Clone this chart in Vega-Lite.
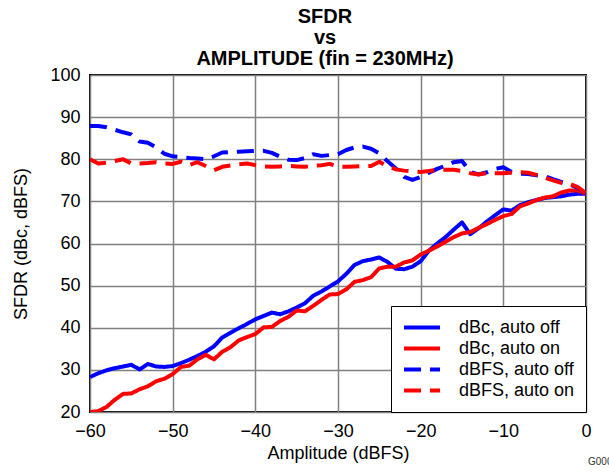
{
  "$schema": "https://vega.github.io/schema/vega-lite/v6.json",
  "width": 496,
  "height": 337,
  "autosize": "none",
  "padding": {"left": 90, "top": 75, "right": 23, "bottom": 60},
  "background": "white",
  "config": {
    "font": "Liberation Sans",
    "view": {"stroke": "black", "strokeWidth": 2},
    "axis": {
      "labelFont": "Liberation Sans",
      "titleFont": "Liberation Sans",
      "labelFontSize": 18,
      "titleFontSize": 18,
      "labelColor": "black",
      "titleColor": "black",
      "titleFontWeight": "normal",
      "gridColor": "#808080",
      "gridWidth": 1.5,
      "gridOpacity": 1,
      "domain": false,
      "ticks": false,
      "labelFlush": false,
      "labelPadding": 10
    }
  },
  "title": {
    "text": ["SFDR", "vs", "AMPLITUDE (fin = 230MHz)"],
    "font": "Liberation Sans",
    "fontSize": 20,
    "fontWeight": "bold",
    "lineHeight": 21,
    "anchor": "middle",
    "dx": -13,
    "dy": 3,
    "offset": 0,
    "color": "black"
  },
  "layer": [
    {
      "data": {
        "values": [
          {"a": -60, "dBc_off": 28.3, "dBc_on": 20.0, "dBFS_off": 87.9, "dBFS_on": 80.0},
          {"a": -59, "dBc_off": 29.2, "dBc_on": 20.2, "dBFS_off": 87.9, "dBFS_on": 79.0},
          {"a": -58, "dBc_off": 29.9, "dBc_on": 21.2, "dBFS_off": 87.6, "dBFS_on": 79.2},
          {"a": -57, "dBc_off": 30.4, "dBc_on": 22.9, "dBFS_off": 87.0, "dBFS_on": 79.6},
          {"a": -56, "dBc_off": 30.8, "dBc_on": 24.3, "dBFS_off": 86.4, "dBFS_on": 80.0},
          {"a": -55, "dBc_off": 31.2, "dBc_on": 24.4, "dBFS_off": 85.9, "dBFS_on": 79.0},
          {"a": -54, "dBc_off": 30.1, "dBc_on": 25.4, "dBFS_off": 84.2, "dBFS_on": 79.0},
          {"a": -53, "dBc_off": 31.4, "dBc_on": 26.1, "dBFS_off": 83.9, "dBFS_on": 79.1},
          {"a": -52, "dBc_off": 30.8, "dBc_on": 27.3, "dBFS_off": 82.8, "dBFS_on": 79.3},
          {"a": -51, "dBc_off": 30.7, "dBc_on": 27.9, "dBFS_off": 81.3, "dBFS_on": 79.0},
          {"a": -50, "dBc_off": 30.9, "dBc_on": 29.0, "dBFS_off": 80.7, "dBFS_on": 78.9},
          {"a": -49, "dBc_off": 31.6, "dBc_on": 30.7, "dBFS_off": 80.5, "dBFS_on": 79.4},
          {"a": -48, "dBc_off": 32.4, "dBc_on": 31.0, "dBFS_off": 80.3, "dBFS_on": 78.6},
          {"a": -47, "dBc_off": 33.3, "dBc_on": 32.5, "dBFS_off": 80.2, "dBFS_on": 79.3},
          {"a": -46, "dBc_off": 34.3, "dBc_on": 33.6, "dBFS_off": 80.0, "dBFS_on": 78.4},
          {"a": -45, "dBc_off": 35.6, "dBc_on": 32.5, "dBFS_off": 80.7, "dBFS_on": 77.4},
          {"a": -44, "dBc_off": 37.7, "dBc_on": 34.3, "dBFS_off": 81.6, "dBFS_on": 78.2},
          {"a": -43, "dBc_off": 38.8, "dBc_on": 35.4, "dBFS_off": 81.7, "dBFS_on": 78.5},
          {"a": -42, "dBc_off": 39.9, "dBc_on": 37.0, "dBFS_off": 81.8, "dBFS_on": 78.8},
          {"a": -41, "dBc_off": 40.9, "dBc_on": 37.8, "dBFS_off": 81.9, "dBFS_on": 79.0},
          {"a": -40, "dBc_off": 42.0, "dBc_on": 38.5, "dBFS_off": 82.0, "dBFS_on": 78.6},
          {"a": -39, "dBc_off": 42.8, "dBc_on": 40.1, "dBFS_off": 82.0, "dBFS_on": 78.3},
          {"a": -38, "dBc_off": 43.6, "dBc_on": 40.2, "dBFS_off": 81.5, "dBFS_on": 78.2},
          {"a": -37, "dBc_off": 43.2, "dBc_on": 41.6, "dBFS_off": 80.6, "dBFS_on": 78.3},
          {"a": -36, "dBc_off": 43.9, "dBc_on": 42.6, "dBFS_off": 79.9, "dBFS_on": 78.4},
          {"a": -35, "dBc_off": 44.8, "dBc_on": 44.1, "dBFS_off": 79.8, "dBFS_on": 78.3},
          {"a": -34, "dBc_off": 45.8, "dBc_on": 43.9, "dBFS_off": 80.3, "dBFS_on": 78.2},
          {"a": -33, "dBc_off": 47.6, "dBc_on": 45.2, "dBFS_off": 81.2, "dBFS_on": 78.5},
          {"a": -32, "dBc_off": 48.6, "dBc_on": 46.6, "dBFS_off": 80.8, "dBFS_on": 78.6},
          {"a": -31, "dBc_off": 49.8, "dBc_on": 47.9, "dBFS_off": 81.0, "dBFS_on": 78.9},
          {"a": -30, "dBc_off": 51.0, "dBc_on": 48.0, "dBFS_off": 81.2, "dBFS_on": 78.3},
          {"a": -29, "dBc_off": 52.8, "dBc_on": 49.1, "dBFS_off": 82.2, "dBFS_on": 78.2},
          {"a": -28, "dBc_off": 54.9, "dBc_on": 50.9, "dBFS_off": 82.8, "dBFS_on": 78.3},
          {"a": -27, "dBc_off": 55.8, "dBc_on": 51.3, "dBFS_off": 83.0, "dBFS_on": 78.4},
          {"a": -26, "dBc_off": 56.2, "dBc_on": 52.0, "dBFS_off": 82.5, "dBFS_on": 78.4},
          {"a": -25, "dBc_off": 56.7, "dBc_on": 54.1, "dBFS_off": 81.4, "dBFS_on": 79.4},
          {"a": -24, "dBc_off": 55.6, "dBc_on": 54.5, "dBFS_off": 79.5, "dBFS_on": 78.3},
          {"a": -23, "dBc_off": 54.0, "dBc_on": 54.5, "dBFS_off": 77.8, "dBFS_on": 77.6},
          {"a": -22, "dBc_off": 53.9, "dBc_on": 55.5, "dBFS_off": 75.8, "dBFS_on": 77.3},
          {"a": -21, "dBc_off": 54.5, "dBc_on": 56.0, "dBFS_off": 75.1, "dBFS_on": 77.1},
          {"a": -20, "dBc_off": 55.8, "dBc_on": 57.4, "dBFS_off": 75.8, "dBFS_on": 77.0},
          {"a": -19, "dBc_off": 58.3, "dBc_on": 58.3, "dBFS_off": 76.8, "dBFS_on": 77.2},
          {"a": -18, "dBc_off": 60.0, "dBc_on": 59.3, "dBFS_off": 77.7, "dBFS_on": 77.5},
          {"a": -17, "dBc_off": 61.5, "dBc_on": 60.4, "dBFS_off": 78.5, "dBFS_on": 77.5},
          {"a": -16, "dBc_off": 63.3, "dBc_on": 61.5, "dBFS_off": 79.3, "dBFS_on": 77.5},
          {"a": -15, "dBc_off": 65.0, "dBc_on": 62.4, "dBFS_off": 79.6, "dBFS_on": 77.2},
          {"a": -14, "dBc_off": 62.2, "dBc_on": 62.7, "dBFS_off": 77.0, "dBFS_on": 76.7},
          {"a": -13, "dBc_off": 63.6, "dBc_on": 63.7, "dBFS_off": 76.4, "dBFS_on": 76.4},
          {"a": -12, "dBc_off": 65.2, "dBc_on": 64.6, "dBFS_off": 76.9, "dBFS_on": 76.7},
          {"a": -11, "dBc_off": 66.7, "dBc_on": 65.6, "dBFS_off": 77.7, "dBFS_on": 76.7},
          {"a": -10, "dBc_off": 68.1, "dBc_on": 66.5, "dBFS_off": 78.1, "dBFS_on": 76.7},
          {"a": -9, "dBc_off": 67.8, "dBc_on": 67.0, "dBFS_off": 77.0, "dBFS_on": 76.8},
          {"a": -8, "dBc_off": 69.1, "dBc_on": 68.8, "dBFS_off": 76.6, "dBFS_on": 76.9},
          {"a": -7, "dBc_off": 69.8, "dBc_on": 69.5, "dBFS_off": 76.5, "dBFS_on": 76.8},
          {"a": -6, "dBc_off": 70.3, "dBc_on": 70.3, "dBFS_off": 76.2, "dBFS_on": 76.3},
          {"a": -5, "dBc_off": 70.8, "dBc_on": 70.9, "dBFS_off": 76.0, "dBFS_on": 75.6},
          {"a": -4, "dBc_off": 71.0, "dBc_on": 71.2, "dBFS_off": 75.3, "dBFS_on": 75.0},
          {"a": -3, "dBc_off": 71.2, "dBc_on": 72.1, "dBFS_off": 74.6, "dBFS_on": 74.4},
          {"a": -2, "dBc_off": 71.6, "dBc_on": 72.6, "dBFS_off": 74.0, "dBFS_on": 74.2},
          {"a": -1, "dBc_off": 71.8, "dBc_on": 72.6, "dBFS_off": 73.2, "dBFS_on": 73.4},
          {"a": 0, "dBc_off": 71.8, "dBc_on": 71.8, "dBFS_off": 71.9, "dBFS_on": 71.9}
        ]
      },
      "transform": [
        {"fold": ["dBc_off", "dBc_on", "dBFS_off", "dBFS_on"], "as": ["series", "sfdr"]}
      ],
      "mark": {"type": "line", "strokeWidth": 4, "strokeCap": "butt", "strokeJoin": "round", "clip": true},
      "encoding": {
        "x": {
          "field": "a",
          "type": "quantitative",
          "title": "Amplitude (dBFS)",
          "scale": {"domain": [-60, 0], "nice": false},
          "axis": {"values": [-60, -50, -40, -30, -20, -10, 0], "titlePadding": 4}
        },
        "y": {
          "field": "sfdr",
          "type": "quantitative",
          "title": "SFDR (dBc, dBFS)",
          "scale": {"domain": [20, 100], "nice": false, "zero": false},
          "axis": {"values": [20, 30, 40, 50, 60, 70, 80, 90, 100], "titlePadding": 19}
        },
        "color": {
          "field": "series",
          "type": "nominal",
          "scale": {
            "domain": ["dBc_off", "dBc_on", "dBFS_off", "dBFS_on"],
            "range": ["#0000FF", "#FF0000", "#0000FF", "#FF0000"]
          },
          "legend": {
            "title": null,
            "orient": "bottom-right",
            "offset": 0,
            "labelExpr": "datum.label == 'dBc_off' ? 'dBc, auto off' : datum.label == 'dBc_on' ? 'dBc, auto on' : datum.label == 'dBFS_off' ? 'dBFS, auto off' : 'dBFS, auto on'",
            "labelFont": "Liberation Sans",
            "labelFontSize": 18,
            "labelColor": "black",
            "labelOffset": 17,
            "symbolType": "stroke",
            "symbolSize": 1296,
            "symbolStrokeWidth": 4,
            "clipHeight": 21,
            "rowPadding": 0,
            "padding": 11,
            "strokeColor": "black",
            "fillColor": "white"
          }
        },
        "strokeDash": {
          "field": "series",
          "type": "nominal",
          "scale": {
            "domain": ["dBc_off", "dBc_on", "dBFS_off", "dBFS_on"],
            "range": [[1, 0], [1, 0], [17, 9], [17, 9]]
          }
        }
      }
    },
    {
      "data": {"values": [{"code": "G000"}]},
      "mark": {
        "type": "text",
        "align": "left",
        "baseline": "middle",
        "dx": 2,
        "dy": 50,
        "fontSize": 10,
        "font": "Liberation Sans",
        "color": "#333333",
        "clip": false
      },
      "encoding": {
        "x": {"datum": 0, "type": "quantitative"},
        "y": {"datum": 20, "type": "quantitative"},
        "text": {"field": "code"}
      }
    }
  ]
}
